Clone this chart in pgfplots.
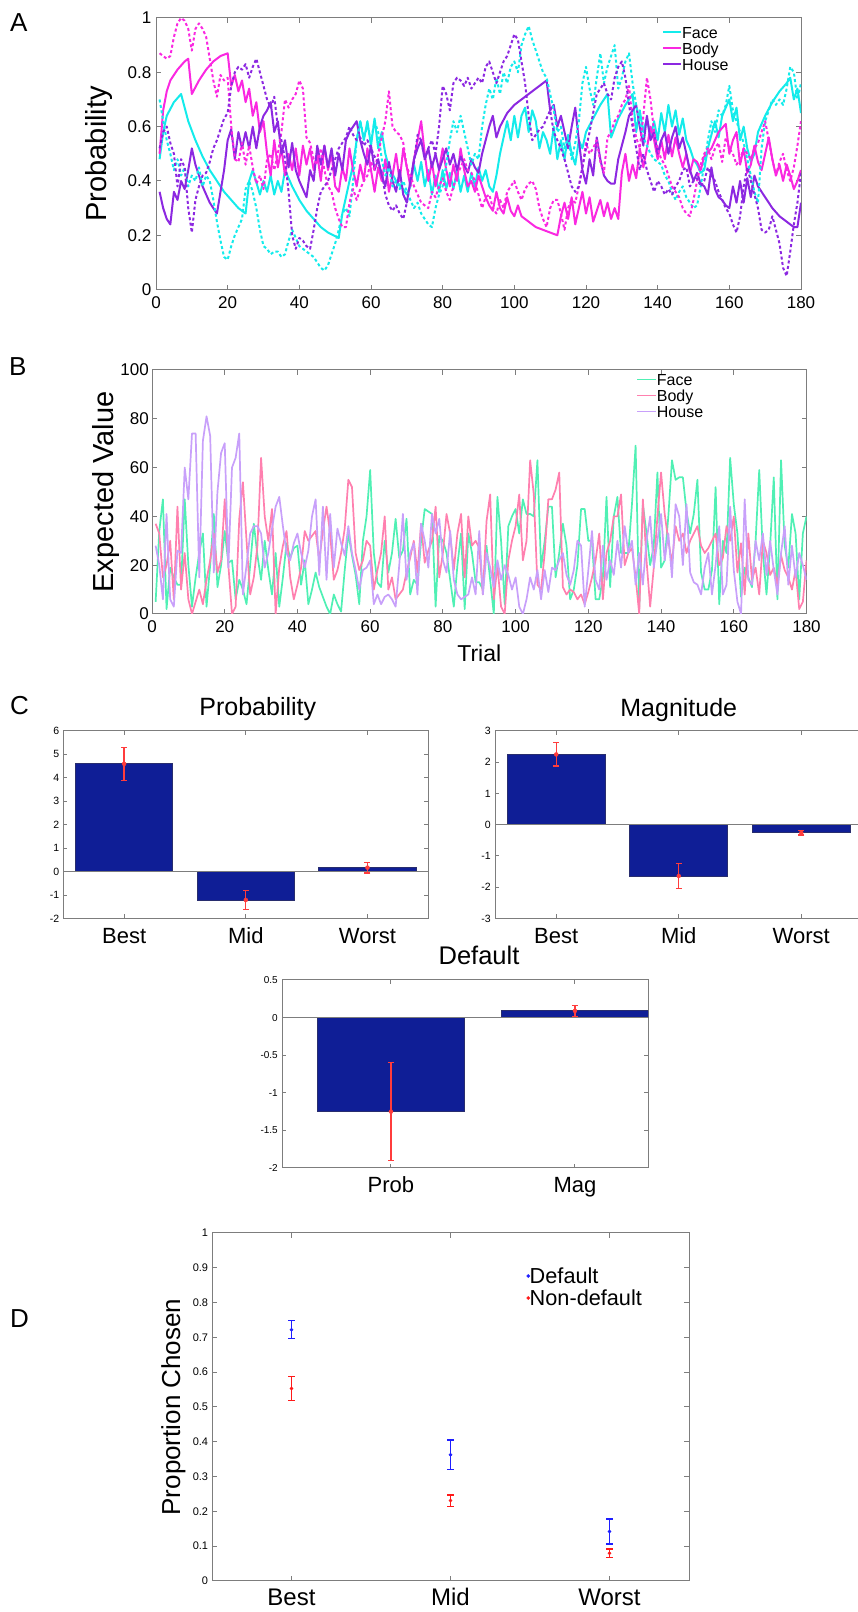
\documentclass[border=0pt]{standalone}
\usepackage{pgfplots}
\pgfplotsset{compat=1.18}
\usepackage{fontspec}
\setmainfont{Liberation Sans}

\definecolor{axgray}{RGB}{125,125,125}
\definecolor{faceA}{RGB}{20,235,235}
\definecolor{bodyA}{RGB}{250,40,225}
\definecolor{houseA}{RGB}{140,40,225}
\definecolor{faceB}{RGB}{80,240,180}
\definecolor{bodyB}{RGB}{255,128,175}
\definecolor{houseB}{RGB}{200,160,250}
\definecolor{barblue}{RGB}{15,30,150}
\definecolor{baredge}{RGB}{40,45,110}
\definecolor{errred}{RGB}{255,60,60}
\definecolor{dblue}{RGB}{30,30,255}
\definecolor{dred}{RGB}{255,25,25}

\newcommand{\fs}[1]{\fontsize{#1}{#1}\selectfont}

\pgfplotsset{
  mlab/.style={
    scale only axis, enlargelimits=false,
    axis line style={draw=axgray, line width=1pt},
    tick style={draw=axgray, line width=1pt},
    tick align=inside, major tick length=5pt,
    /pgf/number format/assume math mode=true,
  },
  dotline/.style={line width=2pt, dash pattern=on 3pt off 2.5pt, line join=round},
  solline/.style={line width=2pt, line join=round},
  bline/.style={line width=1.7pt, line join=round},
  errs/.style={only marks, mark=none, errred,
    error bars/.cd, y dir=both, y explicit,
    error bar style={draw=errred, line width=1.3pt},
    error mark options={rotate=90, draw=errred, line width=1.3pt, mark size=3pt}},
}

\begin{document}
\begin{tikzpicture}[x=1pt,y=1pt]
\useasboundingbox (0pt,0pt) rectangle (858pt,1612pt);

% panel letters
\node[anchor=base west, inner sep=0pt, font=\fs{26}] at (10pt,1580pt) {A};
\node[anchor=base west, inner sep=0pt, font=\fs{26}] at (9pt,1236pt) {B};
\node[anchor=base west, inner sep=0pt, font=\fs{26}] at (10pt,897pt) {C};
\node[anchor=base west, inner sep=0pt, font=\fs{26}] at (10pt,284pt) {D};

% ---------------- A
\begin{axis}[mlab, anchor=south west, at={(156pt,1322.4pt)},
  width=645pt, height=271.6pt,
  xmin=0, xmax=180, ymin=0, ymax=1,
  xtick={0,20,...,180}, ytick={0,0.2,0.4,0.6,0.8,1},
  tick label style={font=\fs{17}},
  xticklabel style={anchor=base, yshift=-19.4pt},
  yticklabel style={inner sep=0pt, xshift=-4.5pt},
  ylabel={Probability},
  ylabel style={font=\fs{29}, at={(axis description cs:-0.0775,0.5)}, anchor=base},
  legend style={at={(0.7845,0.9687)}, anchor=north west, draw=none, fill=none,
    font=\fs{16}, inner sep=0pt, row sep=0pt,
    nodes={inner sep=0pt, text height=11.5pt, text depth=4.5pt},
    /tikz/every even column/.append style={column sep=5pt}},
  legend cell align=left,
  legend image code/.code={\draw[#1] (0pt,2.3pt) -- (18pt,2.3pt);},
]
\addplot[faceA, solline] coordinates {
(1,0.48)(2,0.58)(3,0.64)(5,0.69)(7,0.72)(9,0.62)(11,0.55)(13,0.49)(15,0.44)(17,0.40)(19,0.36)(21,0.33)(23,0.30)(25,0.28)(26,0.40)(27,0.44)(29,0.35)(30,0.40)(31,0.36)(32,0.42)(33,0.35)(34,0.40)(35,0.36)(36,0.44)(38,0.38)(40,0.33)(42,0.29)(44,0.26)(46,0.23)(48,0.21)(51,0.19)(52,0.28)(53,0.34)(55,0.46)(56,0.55)(57,0.62)(58,0.55)(59,0.62)(60,0.53)(61,0.63)(62,0.52)(63,0.58)(64,0.50)(65,0.45)(67,0.40)(69,0.37)(70,0.35)(71,0.38)(72,0.46)(73,0.40)(74,0.47)(75,0.38)(76,0.44)(77,0.35)(78,0.42)(79,0.36)(80,0.44)(81,0.37)(82,0.43)(83,0.37)(84,0.44)(85,0.36)(86,0.42)(87,0.36)(88,0.43)(89,0.38)(90,0.45)(91,0.40)(92,0.44)(93,0.38)(94,0.36)(95,0.42)(96,0.50)(97,0.56)(98,0.62)(99,0.55)(100,0.64)(101,0.56)(102,0.64)(103,0.67)(104,0.58)(105,0.66)(106,0.62)(107,0.52)(108,0.58)(109,0.55)(110,0.50)(111,0.60)(112,0.48)(113,0.55)(114,0.48)(115,0.57)(116,0.50)(117,0.46)(118,0.55)(119,0.52)(120,0.58)(122,0.63)(124,0.68)(126,0.72)(127,0.56)(129,0.63)(131,0.68)(133,0.72)(134,0.58)(135,0.66)(136,0.58)(137,0.63)(138,0.56)(139,0.62)(140,0.55)(141,0.65)(142,0.58)(143,0.68)(144,0.60)(145,0.66)(146,0.57)(147,0.63)(148,0.55)(149,0.52)(150,0.48)(151,0.46)(152,0.43)(153,0.44)(154,0.52)(155,0.57)(156,0.62)(157,0.56)(158,0.64)(159,0.67)(160,0.70)(161,0.62)(162,0.67)(163,0.55)(164,0.60)(165,0.52)(166,0.47)(167,0.50)(168,0.58)(170,0.64)(172,0.69)(174,0.73)(176,0.76)(177,0.78)(178,0.70)(179,0.74)(180,0.65)
};
\addlegendentry{Face}
\addplot[bodyA, solline] coordinates {
(1,0.50)(2,0.66)(3,0.73)(4,0.77)(6,0.81)(8,0.84)(9,0.85)(10,0.72)(12,0.77)(14,0.81)(16,0.84)(18,0.86)(20,0.87)(21,0.75)(22,0.79)(23,0.73)(24,0.77)(25,0.69)(26,0.74)(27,0.64)(28,0.69)(29,0.58)(30,0.62)(31,0.50)(32,0.42)(33,0.55)(34,0.45)(35,0.52)(36,0.42)(37,0.50)(38,0.44)(39,0.52)(40,0.42)(41,0.53)(42,0.46)(43,0.52)(44,0.44)(45,0.50)(46,0.40)(47,0.53)(48,0.44)(49,0.50)(50,0.38)(51,0.36)(52,0.45)(53,0.40)(54,0.52)(55,0.44)(56,0.38)(57,0.46)(58,0.40)(59,0.52)(60,0.44)(61,0.36)(62,0.45)(63,0.40)(64,0.48)(65,0.36)(66,0.42)(67,0.50)(68,0.40)(69,0.52)(70,0.45)(71,0.38)(72,0.48)(73,0.55)(74,0.62)(75,0.50)(76,0.40)(77,0.47)(78,0.38)(79,0.44)(80,0.52)(81,0.44)(82,0.38)(83,0.46)(84,0.40)(85,0.52)(86,0.44)(87,0.38)(88,0.40)(89,0.36)(90,0.42)(91,0.38)(92,0.34)(93,0.31)(94,0.29)(95,0.36)(96,0.30)(97,0.28)(98,0.34)(99,0.29)(100,0.27)(101,0.31)(102,0.27)(104,0.25)(106,0.23)(108,0.22)(110,0.21)(112,0.20)(113,0.27)(114,0.32)(115,0.26)(116,0.34)(117,0.24)(118,0.30)(119,0.36)(120,0.28)(121,0.34)(122,0.25)(123,0.29)(124,0.33)(125,0.27)(126,0.32)(127,0.26)(128,0.30)(129,0.26)(130,0.43)(131,0.50)(132,0.40)(133,0.46)(134,0.41)(135,0.52)(136,0.45)(137,0.52)(138,0.60)(139,0.55)(140,0.48)(141,0.55)(142,0.48)(143,0.57)(144,0.49)(145,0.56)(146,0.50)(147,0.45)(148,0.50)(149,0.43)(150,0.48)(151,0.47)(152,0.44)(153,0.49)(155,0.52)(157,0.58)(159,0.61)(160,0.50)(161,0.55)(162,0.58)(163,0.46)(164,0.52)(165,0.43)(166,0.46)(167,0.53)(168,0.47)(169,0.44)(170,0.50)(171,0.56)(172,0.48)(173,0.42)(174,0.46)(175,0.40)(176,0.46)(177,0.42)(178,0.37)(179,0.40)(180,0.44)
};
\addlegendentry{Body}
\addplot[houseA, solline] coordinates {
(1,0.36)(2,0.30)(3,0.26)(4,0.24)(5,0.36)(6,0.33)(7,0.40)(8,0.37)(9,0.44)(10,0.52)(11,0.46)(12,0.42)(13,0.38)(14,0.35)(15,0.32)(16,0.30)(17,0.28)(18,0.36)(19,0.44)(20,0.55)(21,0.59)(22,0.48)(23,0.58)(24,0.52)(25,0.58)(26,0.52)(27,0.60)(28,0.52)(29,0.60)(30,0.64)(31,0.66)(32,0.69)(33,0.58)(34,0.62)(35,0.50)(36,0.55)(37,0.45)(38,0.54)(39,0.44)(40,0.40)(41,0.37)(42,0.34)(43,0.44)(44,0.40)(45,0.53)(46,0.46)(47,0.53)(48,0.45)(49,0.52)(50,0.42)(51,0.50)(52,0.44)(53,0.55)(54,0.58)(55,0.60)(56,0.62)(57,0.55)(58,0.50)(59,0.46)(60,0.53)(61,0.44)(62,0.48)(63,0.42)(64,0.38)(65,0.47)(66,0.40)(67,0.36)(68,0.44)(69,0.35)(70,0.32)(71,0.40)(72,0.48)(73,0.52)(74,0.55)(75,0.48)(76,0.52)(77,0.45)(78,0.50)(79,0.44)(80,0.48)(81,0.52)(82,0.46)(83,0.50)(84,0.44)(85,0.49)(86,0.46)(87,0.43)(88,0.48)(89,0.45)(90,0.43)(91,0.50)(92,0.55)(93,0.60)(94,0.64)(95,0.56)(96,0.60)(98,0.65)(100,0.68)(102,0.70)(104,0.72)(106,0.74)(108,0.76)(109,0.77)(110,0.66)(111,0.68)(112,0.60)(113,0.64)(114,0.58)(115,0.52)(116,0.60)(117,0.67)(118,0.55)(119,0.44)(120,0.39)(121,0.48)(122,0.42)(123,0.56)(124,0.48)(125,0.42)(126,0.40)(127,0.39)(128,0.39)(129,0.48)(131,0.58)(132,0.64)(134,0.68)(135,0.60)(136,0.53)(137,0.64)(138,0.55)(139,0.58)(140,0.50)(141,0.55)(142,0.58)(143,0.50)(144,0.56)(145,0.60)(146,0.52)(147,0.56)(148,0.50)(149,0.44)(150,0.40)(151,0.43)(152,0.39)(153,0.38)(154,0.35)(155,0.45)(156,0.37)(157,0.34)(158,0.33)(159,0.31)(160,0.30)(161,0.38)(162,0.32)(163,0.40)(164,0.32)(165,0.41)(166,0.34)(167,0.42)(168,0.38)(170,0.34)(172,0.30)(174,0.27)(176,0.25)(178,0.23)(179,0.23)(180,0.32)
};
\addlegendentry{House}
\addplot[faceA, dotline, forget plot] coordinates {
(1,0.70)(2,0.62)(3,0.55)(4,0.50)(5,0.44)(6,0.48)(7,0.42)(8,0.45)(9,0.38)(10,0.42)(11,0.40)(12,0.45)(13,0.38)(14,0.42)(15,0.40)(16,0.33)(17,0.25)(18,0.18)(19,0.12)(20,0.11)(21,0.16)(22,0.20)(23,0.23)(24,0.26)(25,0.37)(26,0.40)(27,0.36)(28,0.30)(29,0.22)(30,0.16)(31,0.15)(32,0.13)(33,0.14)(34,0.14)(35,0.12)(36,0.13)(37,0.18)(38,0.22)(39,0.19)(40,0.16)(41,0.15)(42,0.14)(43,0.13)(44,0.12)(45,0.10)(46,0.08)(47,0.07)(48,0.09)(49,0.13)(50,0.17)(51,0.22)(52,0.28)(53,0.30)(54,0.27)(55,0.40)(56,0.55)(57,0.62)(58,0.56)(59,0.60)(60,0.55)(61,0.62)(62,0.58)(63,0.48)(64,0.42)(65,0.45)(66,0.38)(67,0.40)(68,0.37)(69,0.40)(70,0.36)(71,0.33)(72,0.30)(73,0.32)(74,0.28)(75,0.26)(76,0.24)(77,0.23)(78,0.30)(79,0.35)(80,0.38)(81,0.46)(82,0.55)(83,0.62)(84,0.58)(85,0.64)(86,0.58)(87,0.52)(88,0.46)(89,0.50)(90,0.48)(91,0.60)(92,0.68)(93,0.74)(94,0.70)(95,0.78)(96,0.72)(97,0.80)(98,0.76)(99,0.82)(100,0.84)(101,0.80)(102,0.90)(103,0.94)(104,0.97)(105,0.92)(106,0.88)(107,0.84)(108,0.80)(109,0.78)(110,0.72)(111,0.66)(112,0.58)(113,0.60)(114,0.52)(115,0.56)(116,0.48)(117,0.54)(118,0.62)(119,0.76)(120,0.82)(121,0.74)(122,0.68)(123,0.78)(124,0.87)(125,0.76)(126,0.82)(127,0.86)(128,0.90)(129,0.74)(130,0.78)(131,0.84)(132,0.87)(133,0.76)(134,0.68)(135,0.62)(136,0.56)(137,0.53)(138,0.50)(139,0.48)(140,0.47)(141,0.46)(142,0.42)(143,0.40)(144,0.36)(145,0.33)(146,0.36)(147,0.38)(148,0.34)(149,0.32)(150,0.30)(151,0.31)(152,0.38)(153,0.46)(154,0.55)(155,0.62)(156,0.58)(157,0.66)(158,0.64)(159,0.68)(160,0.75)(161,0.66)(162,0.62)(163,0.58)(164,0.54)(165,0.48)(166,0.42)(167,0.36)(168,0.32)(169,0.52)(170,0.62)(171,0.66)(172,0.70)(173,0.68)(174,0.70)(175,0.68)(176,0.74)(177,0.82)(178,0.80)(179,0.70)(180,0.76)
};
\addplot[bodyA, dotline, forget plot] coordinates {
(1,0.87)(2,0.86)(3,0.85)(4,0.86)(5,0.93)(6,0.98)(7,1.0)(8,0.99)(9,0.96)(10,0.88)(11,0.96)(12,0.98)(13,0.96)(14,0.93)(15,0.85)(16,0.77)(17,0.71)(18,0.79)(19,0.77)(20,0.78)(21,0.60)(22,0.48)(23,0.47)(24,0.54)(25,0.46)(26,0.53)(27,0.45)(28,0.39)(29,0.42)(30,0.37)(31,0.48)(32,0.50)(33,0.44)(34,0.50)(35,0.58)(36,0.70)(37,0.67)(38,0.70)(39,0.72)(40,0.77)(41,0.74)(42,0.56)(43,0.54)(44,0.48)(45,0.46)(46,0.52)(47,0.44)(48,0.38)(49,0.36)(50,0.30)(51,0.26)(52,0.23)(53,0.23)(54,0.32)(55,0.37)(56,0.33)(57,0.37)(58,0.40)(59,0.42)(60,0.47)(61,0.44)(62,0.50)(63,0.56)(64,0.62)(65,0.73)(66,0.60)(67,0.58)(68,0.57)(69,0.54)(70,0.45)(71,0.42)(72,0.38)(73,0.35)(74,0.32)(75,0.31)(76,0.30)(77,0.36)(78,0.34)(79,0.38)(80,0.41)(81,0.36)(82,0.33)(83,0.38)(84,0.42)(85,0.45)(86,0.48)(87,0.44)(88,0.43)(89,0.40)(90,0.35)(91,0.30)(92,0.34)(93,0.35)(94,0.30)(95,0.28)(96,0.33)(97,0.30)(98,0.36)(99,0.38)(100,0.40)(101,0.36)(102,0.33)(103,0.37)(104,0.39)(105,0.40)(106,0.37)(107,0.30)(108,0.26)(109,0.23)(110,0.30)(111,0.33)(112,0.33)(113,0.28)(114,0.22)(115,0.30)(116,0.33)(117,0.32)(118,0.38)(119,0.45)(120,0.54)(121,0.50)(122,0.52)(123,0.55)(124,0.47)(125,0.43)(126,0.56)(127,0.58)(128,0.62)(129,0.64)(130,0.68)(131,0.70)(132,0.75)(133,0.62)(134,0.56)(135,0.52)(136,0.64)(137,0.78)(138,0.70)(139,0.58)(140,0.52)(141,0.48)(142,0.46)(143,0.42)(144,0.38)(145,0.36)(146,0.34)(147,0.30)(148,0.28)(149,0.27)(150,0.33)(151,0.40)(152,0.46)(153,0.50)(154,0.52)(155,0.48)(156,0.52)(157,0.54)(158,0.47)(159,0.56)(160,0.52)(161,0.50)(162,0.46)(163,0.48)(164,0.52)(165,0.50)(166,0.48)(167,0.52)(168,0.54)(169,0.58)(170,0.62)(171,0.55)(172,0.48)(173,0.42)(174,0.47)(175,0.50)(176,0.44)(177,0.40)(178,0.45)(179,0.53)(180,0.62)
};
\addplot[houseA, dotline, forget plot] coordinates {
(1,0.52)(2,0.58)(3,0.60)(4,0.54)(5,0.50)(6,0.38)(7,0.48)(8,0.45)(9,0.30)(10,0.21)(11,0.33)(12,0.38)(13,0.42)(14,0.43)(15,0.47)(16,0.52)(17,0.55)(18,0.59)(19,0.63)(20,0.65)(21,0.75)(22,0.80)(23,0.82)(24,0.81)(25,0.83)(26,0.78)(27,0.82)(28,0.85)(29,0.80)(30,0.75)(31,0.70)(32,0.67)(33,0.71)(34,0.60)(35,0.55)(36,0.48)(37,0.36)(38,0.20)(39,0.15)(40,0.19)(41,0.18)(42,0.16)(43,0.15)(44,0.22)(45,0.30)(46,0.36)(47,0.38)(48,0.40)(49,0.44)(50,0.48)(51,0.52)(52,0.54)(53,0.56)(54,0.60)(55,0.57)(56,0.55)(57,0.56)(58,0.53)(59,0.55)(60,0.52)(61,0.49)(62,0.47)(63,0.43)(64,0.35)(65,0.31)(66,0.29)(67,0.31)(68,0.28)(69,0.26)(70,0.32)(71,0.40)(72,0.47)(73,0.57)(74,0.55)(75,0.48)(76,0.52)(77,0.55)(78,0.50)(79,0.60)(80,0.75)(81,0.72)(82,0.66)(83,0.76)(84,0.78)(85,0.77)(86,0.75)(87,0.78)(88,0.74)(89,0.76)(90,0.78)(91,0.76)(92,0.82)(93,0.84)(94,0.80)(95,0.76)(96,0.80)(97,0.84)(98,0.86)(99,0.90)(100,0.94)(101,0.92)(102,0.84)(103,0.76)(104,0.64)(105,0.55)(106,0.57)(107,0.59)(108,0.60)(109,0.63)(110,0.66)(111,0.58)(112,0.55)(113,0.52)(114,0.48)(115,0.43)(116,0.38)(117,0.36)(118,0.38)(119,0.45)(120,0.52)(121,0.58)(122,0.65)(123,0.72)(124,0.74)(125,0.76)(126,0.72)(127,0.70)(128,0.78)(129,0.82)(130,0.84)(131,0.78)(132,0.68)(133,0.60)(134,0.52)(135,0.44)(136,0.50)(137,0.44)(138,0.40)(139,0.36)(140,0.40)(141,0.38)(142,0.35)(143,0.37)(144,0.35)(145,0.38)(146,0.40)(147,0.44)(148,0.45)(149,0.38)(150,0.40)(151,0.41)(152,0.38)(153,0.40)(154,0.45)(155,0.42)(156,0.40)(157,0.36)(158,0.33)(159,0.30)(160,0.28)(161,0.24)(162,0.21)(163,0.27)(164,0.38)(165,0.45)(166,0.40)(167,0.35)(168,0.30)(169,0.22)(170,0.21)(171,0.22)(172,0.27)(173,0.22)(174,0.17)(175,0.08)(176,0.05)(177,0.14)(178,0.24)(179,0.32)(180,0.43)
};
\end{axis}

% ---------------- B
\begin{axis}[mlab, anchor=south west, at={(152pt,998pt)},
  width=654.5pt, height=244pt,
  xmin=0, xmax=180, ymin=0, ymax=100,
  xtick={0,20,...,180}, ytick={0,20,...,100},
  tick label style={font=\fs{17}},
  xticklabel style={anchor=base, yshift=-19pt},
  yticklabel style={inner sep=0pt, xshift=-3pt},
  xlabel={Trial}, ylabel={Expected Value},
  xlabel style={font=\fs{23}, at={(axis description cs:0.5,0)}, anchor=base, yshift=-47.5pt},
  ylabel style={font=\fs{29}, at={(axis description cs:-0.0591,0.5)}, anchor=base},
  legend style={at={(0.7395,0.9857)}, anchor=north west, draw=none, fill=none,
    font=\fs{16}, inner sep=0pt, row sep=0pt,
    nodes={inner sep=0pt, text height=11.5pt, text depth=4.5pt},
    /tikz/every even column/.append style={column sep=7pt}},
  legend cell align=left,
  legend image code/.code={\draw[#1] (0pt,2.3pt) -- (19pt,2.3pt);},
]
\addplot[faceB, bline] coordinates {
(1,5)(2,34)(3,47)(4,2)(5,19)(6,15)(7,12)(8,12)(9,47)(10,20)(11,3)(12,15)(13,25)(14,33)(15,3)(16,20)(17,41)(18,11)(19,20)(20,34)(21,21)(22,22)(23,6)(24,14)(25,10)(26,4)(27,20)(28,37)(29,24)(30,14)(31,30)(32,18)(33,8)(34,25)(35,3)(36,15)(37,29)(38,23)(39,27)(40,28)(41,12)(42,22)(43,4)(44,10)(45,17)(46,11)(47,7)(48,3)(49,0)(50,8)(51,4)(52,1)(53,18)(54,33)(55,24)(56,16)(57,4)(58,30)(59,40)(60,59)(61,25)(62,13)(63,11)(64,30)(65,17)(66,25)(67,39)(68,23)(69,26)(70,39)(71,8)(72,14)(73,12)(74,30)(75,43)(76,42)(77,41)(78,3)(79,32)(80,30)(81,25)(82,14)(83,3)(84,20)(85,33)(86,2)(87,33)(88,25)(89,13)(90,13)(91,10)(92,28)(93,14)(94,0)(95,48)(96,30)(97,4)(98,36)(99,40)(100,43)(101,33)(102,47)(103,41)(104,41)(105,40)(106,63)(107,19)(108,30)(109,44)(110,44)(111,15)(112,25)(113,37)(114,28)(115,6)(116,10)(117,20)(118,43)(119,43)(120,30)(121,30)(122,6)(123,6)(124,15)(125,48)(126,11)(127,40)(128,48)(129,25)(130,25)(131,25)(132,45)(133,69)(134,3)(135,45)(136,33)(137,20)(138,28)(139,58)(140,19)(141,22)(142,40)(143,63)(144,55)(145,56)(146,56)(147,42)(148,33)(149,41)(150,55)(151,17)(152,10)(153,10)(154,18)(155,52)(156,4)(157,30)(158,25)(159,64)(160,45)(161,33)(162,7)(163,19)(164,15)(165,11)(166,30)(167,59)(168,25)(169,8)(170,28)(171,56)(172,6)(173,63)(174,28)(175,19)(176,41)(177,33)(178,6)(179,33)(180,40)
};
\addlegendentry{Face}
\addplot[bodyB, bline] coordinates {
(1,37)(2,33)(3,15)(4,20)(5,30)(6,6)(7,44)(8,10)(9,25)(10,6)(11,0)(12,5)(13,10)(14,4)(15,14)(16,22)(17,33)(18,17)(19,22)(20,47)(21,20)(22,0)(23,3)(24,39)(25,54)(26,30)(27,8)(28,15)(29,28)(30,64)(31,40)(32,30)(33,43)(34,0)(35,19)(36,28)(37,34)(38,15)(39,6)(40,12)(41,19)(42,34)(43,30)(44,32)(45,34)(46,22)(47,34)(48,44)(49,33)(50,14)(51,18)(52,25)(53,35)(54,55)(55,52)(56,25)(57,18)(58,22)(59,30)(60,28)(61,10)(62,18)(63,25)(64,40)(65,10)(66,15)(67,6)(68,8)(69,10)(70,17)(71,23)(72,30)(73,17)(74,37)(75,21)(76,26)(77,30)(78,44)(79,15)(80,25)(81,41)(82,33)(83,18)(84,33)(85,41)(86,15)(87,40)(88,28)(89,30)(90,27)(91,8)(92,38)(93,49)(94,6)(95,20)(96,3)(97,0)(98,22)(99,30)(100,36)(101,49)(102,22)(103,30)(104,63)(105,49)(106,12)(107,10)(108,25)(109,47)(110,47)(111,51)(112,58)(113,11)(114,8)(115,10)(116,9)(117,6)(118,8)(119,4)(120,9)(121,15)(122,22)(123,33)(124,6)(125,25)(126,30)(127,40)(128,40)(129,49)(130,20)(131,25)(132,27)(133,15)(134,0)(135,47)(136,22)(137,3)(138,19)(139,40)(140,58)(141,41)(142,30)(143,21)(144,36)(145,30)(146,33)(147,25)(148,30)(149,33)(150,36)(151,28)(152,25)(153,27)(154,30)(155,33)(156,20)(157,23)(158,36)(159,30)(160,40)(161,17)(162,29)(163,8)(164,33)(165,14)(166,19)(167,8)(168,30)(169,25)(170,16)(171,19)(172,12)(173,24)(174,18)(175,15)(176,10)(177,18)(178,2)(179,5)(180,22)
};
\addlegendentry{Body}
\addplot[houseB, bline] coordinates {
(1,28)(2,20)(3,6)(4,41)(5,6)(6,3)(7,26)(8,25)(9,60)(10,47)(11,74)(12,74)(13,15)(14,71)(15,81)(16,73)(17,17)(18,50)(19,66)(20,70)(21,19)(22,60)(23,64)(24,74)(25,8)(26,20)(27,33)(28,36)(29,36)(30,33)(31,19)(32,25)(33,35)(34,44)(35,48)(36,36)(37,25)(38,22)(39,29)(40,33)(41,25)(42,19)(43,26)(44,40)(45,47)(46,16)(47,44)(48,14)(49,41)(50,19)(51,35)(52,29)(53,24)(54,36)(55,25)(56,18)(57,10)(58,18)(59,19)(60,22)(61,4)(62,8)(63,4)(64,7)(65,8)(66,6)(67,3)(68,20)(69,41)(70,14)(71,25)(72,29)(73,8)(74,37)(75,30)(76,19)(77,41)(78,33)(79,39)(80,22)(81,17)(82,34)(83,14)(84,8)(85,6)(86,7)(87,8)(88,15)(89,8)(90,34)(91,8)(92,25)(93,19)(94,11)(95,22)(96,14)(97,20)(98,16)(99,10)(100,15)(101,3)(102,0)(103,6)(104,15)(105,10)(106,18)(107,6)(108,18)(109,9)(110,19)(111,18)(112,22)(113,25)(114,16)(115,12)(116,18)(117,30)(118,28)(119,3)(120,18)(121,34)(122,14)(123,10)(124,28)(125,14)(126,22)(127,16)(128,30)(129,19)(130,36)(131,25)(132,30)(133,12)(134,25)(135,12)(136,30)(137,40)(138,19)(139,30)(140,41)(141,22)(142,33)(143,15)(144,45)(145,40)(146,20)(147,45)(148,17)(149,13)(150,12)(151,8)(152,19)(153,25)(154,8)(155,20)(156,36)(157,8)(158,12)(159,44)(160,18)(161,5)(162,0)(163,47)(164,14)(165,12)(166,30)(167,22)(168,33)(169,16)(170,30)(171,18)(172,8)(173,25)(174,36)(175,12)(176,28)(177,15)(178,25)(179,20)(180,14)
};
\addlegendentry{House}
\end{axis}

% ---------------- C: Probability
\begin{axis}[mlab, anchor=south west, at={(63.3pt,693.5pt)},
  width=365pt, height=187.5pt,
  xmin=0.5, xmax=3.5, ymin=-2, ymax=6,
  xtick={1,2,3}, xticklabels={Best,Mid,Worst},
  ytick={-2,-1,0,1,2,3,4,5,6},
  major tick length=4pt,
  xticklabel style={font=\fs{22}, anchor=base, yshift=-24.7pt},
  yticklabel style={font=\fs{10.5}, inner sep=0pt, xshift=-4pt},
  title={Probability},
  title style={font=\fs{25}, at={(axis description cs:0.5,1)}, anchor=base, yshift=9pt, xshift=12pt},
]
\addplot[ybar, bar width=0.8, fill=barblue, draw=baredge, line width=0.8pt] coordinates {(1,4.60) (2,-1.21) (3,0.17)};
\addplot[axgray, line width=1pt] coordinates {(0.5,0) (3.5,0)};
\addplot[errs] coordinates {(1,4.60) +- (0,0.71) (2,-1.21) +- (0,0.41) (3,0.17) +- (0,0.23)};
\end{axis}

% ---------------- C: Magnitude
\begin{axis}[mlab, anchor=south west, at={(495pt,693.5pt)},
  width=367.5pt, height=187.5pt,
  xmin=0.5, xmax=3.5, ymin=-3, ymax=3,
  xtick={1,2,3}, xticklabels={Best,Mid,Worst},
  ytick={-3,-2,-1,0,1,2,3},
  major tick length=4pt,
  xticklabel style={font=\fs{22}, anchor=base, yshift=-24.7pt},
  yticklabel style={font=\fs{10.5}, inner sep=0pt, xshift=-4pt},
  title={Magnitude},
  title style={font=\fs{25}, at={(axis description cs:0.5,1)}, anchor=base, yshift=8.3pt},
]
\addplot[ybar, bar width=0.8, fill=barblue, draw=baredge, line width=0.8pt] coordinates {(1,2.25) (2,-1.64) (3,-0.26)};
\addplot[axgray, line width=1pt] coordinates {(0.5,0) (3.5,0)};
\addplot[errs] coordinates {(1,2.25) +- (0,0.375) (2,-1.64) +- (0,0.39) (3,-0.26) +- (0,0.07)};
\end{axis}

% ---------------- C: Default
\begin{axis}[mlab, anchor=south west, at={(282pt,444pt)},
  width=366pt, height=188pt,
  xmin=0.408, xmax=2.397, ymin=-2, ymax=0.5,
  xtick={1,2}, xticklabels={Prob,Mag},
  ytick={-2,-1.5,-1,-0.5,0,0.5},
  major tick length=4pt,
  xticklabel style={font=\fs{22}, anchor=base, yshift=-25pt},
  yticklabel style={font=\fs{10}, inner sep=0pt, xshift=-4pt},
  title={Default},
  title style={font=\fs{25.5}, at={(axis description cs:0.5,1)}, anchor=base, yshift=9.3pt, xshift=14pt},
]
\addplot[ybar, bar width=0.8, fill=barblue, draw=baredge, line width=0.8pt] coordinates {(1,-1.25) (2,0.09)};
\addplot[axgray, line width=1pt] coordinates {(0.408,0) (2.397,0)};
\addplot[errs] coordinates {(1,-1.25) +- (0,0.65) (2,0.09) +- (0,0.075)};
\end{axis}

% ---------------- D
\begin{axis}[mlab, anchor=south west, at={(212pt,31pt)},
  width=477pt, height=348pt,
  xmin=0.5, xmax=3.5, ymin=0, ymax=1,
  xtick={1,2,3}, xticklabels={Best,Mid,Worst},
  ytick={0,0.1,0.2,0.3,0.4,0.5,0.6,0.7,0.8,0.9,1},
  major tick length=5pt,
  xticklabel style={font=\fs{24}, anchor=base, yshift=-25pt},
  yticklabel style={font=\fs{11}, inner sep=0pt, xshift=-3.7pt},
  ylabel={Proportion Chosen},
  ylabel style={font=\fs{26}, at={(axis description cs:-0.067,0.5)}, anchor=base},
  legend style={at={(0.659,0.9014)}, anchor=north west, draw=none, fill=none,
    font=\fs{21.7}, inner sep=0pt, row sep=0pt,
    nodes={inner sep=0pt, text height=15.5pt, text depth=6.5pt},
    /tikz/every even column/.append style={column sep=7.4pt}},
  legend cell align=left,
  legend image code/.code={\draw[#1] plot coordinates {(1.6pt,2.5pt)};},
]
\addplot[dblue, only marks, mark=*, mark size=1.6pt,
  error bars/.cd, y dir=both, y explicit,
  error bar style={draw=dblue, line width=1.3pt},
  error mark options={rotate=90, draw=dblue, line width=1.3pt, mark size=3.3pt}]
  coordinates {(1,0.722) +- (0,0.026) (2,0.363) +- (0,0.042) (3,0.142) +- (0,0.036)};
\addlegendentry{Default}
\addplot[dred, only marks, mark=*, mark size=1.6pt,
  error bars/.cd, y dir=both, y explicit,
  error bar style={draw=dred, line width=1.3pt},
  error mark options={rotate=90, draw=dred, line width=1.3pt, mark size=3.3pt}]
  coordinates {(1,0.553) +- (0,0.035) (2,0.231) +- (0,0.016) (3,0.080) +- (0,0.012)};
\addlegendentry{Non-default}
\end{axis}
\end{tikzpicture}
\end{document}
